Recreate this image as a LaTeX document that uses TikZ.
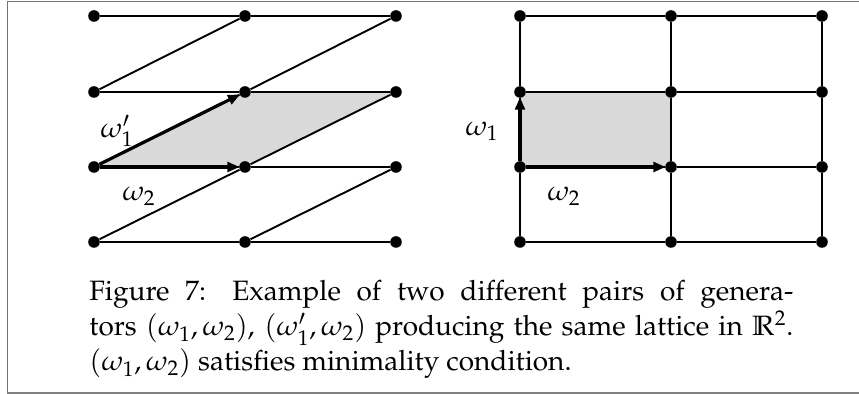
\documentclass[tikz,border=0pt]{standalone}
\usepackage[T1]{fontenc}
\usepackage{mathpazo}
\usepackage{amssymb}
\usetikzlibrary{arrows.meta}
\pgfdeclarelayer{background}
\pgfsetlayers{background,main}
\begin{document}
\begin{tikzpicture}[x=0.5pt,y=-0.5pt,
  dot/.style={circle,fill=black,inner sep=0pt,minimum size=5.8pt},
  lat/.style={line width=0.95pt,black},
  gen/.style={line width=1.6pt,black,-{Triangle[length=6.2pt,width=4.8pt]},shorten >=-0.5pt},
  lbl/.style={inner sep=0pt,font=\fontsize{14pt}{16pt}\selectfont},
  cell/.style={fill=black!15},
  frame/.style={draw=black!55,line width=0.5pt}
]
\useasboundingbox (0,0) rectangle (859,394);
% frame
\draw[frame] (859,2) -- (7,2) -- (7,393);
\draw[draw=black!50,line width=1pt] (7,393) -- (859,393);
% lattice points
\foreach \c/\x in {0/94,1/245,2/396}{
  \foreach \r/\y in {0/16,1/92,2/167,3/242}{
    \node[dot] (L\c\r) at (\x,\y) {};
  }
}
\foreach \c/\x in {0/520,1/671,2/822}{
  \foreach \r/\y in {0/16,1/92,2/167,3/242}{
    \node[dot] (R\c\r) at (\x,\y) {};
  }
}
\begin{pgfonlayer}{background}
  % shaded cells
  \fill[cell] (L02.center) -- (L12.center) -- (L21.center) -- (L11.center) -- cycle;
  \fill[cell] (R01.center) rectangle (R12.center);
  % left lattice
  \foreach \r in {0,1,2,3}{
    \draw[lat] (L0\r) -- (L1\r);
    \draw[lat] (L1\r) -- (L2\r);
  }
  \foreach \r/\s in {1/0,2/1,3/2}{
    \draw[lat] (L0\r) -- (L1\s);
    \draw[lat] (L1\r) -- (L2\s);
  }
  % right lattice
  \foreach \r in {0,1,2,3}{
    \draw[lat] (R0\r) -- (R1\r);
    \draw[lat] (R1\r) -- (R2\r);
  }
  \foreach \c in {0,1,2}{
    \draw[lat] (R\c0) -- (R\c1);
    \draw[lat] (R\c1) -- (R\c2);
    \draw[lat] (R\c2) -- (R\c3);
  }
  % generators
  \draw[gen] (L02) -- (L11);
  \draw[gen] (L02) -- (L12);
  \draw[gen] (R02) -- (R01);
  \draw[gen] (R02) -- (R12);
\end{pgfonlayer}
% labels
\node[lbl] (w1p) at (117,131) {$\omega_1'$};
\node[lbl] (w2l) at (139,196) {$\omega_2$};
\node[lbl] (w1) at (482,131) {$\omega_1$};
\node[lbl] (w2r) at (564,196) {$\omega_2$};
% caption
\node[anchor=base west,inner sep=0pt] (cap) at (89,301) {\parbox[t]{352pt}{\fontsize{14pt}{17.5pt}\selectfont Figure 7: Example of two different pairs of genera-\linebreak tors $(\omega_1,\omega_2)$, $(\omega_1',\omega_2)$ producing the same lattice in $\mathbb{R}^2$.\linebreak $(\omega_1,\omega_2)$ satisfies minimality condition.}};
\end{tikzpicture}
\end{document}
